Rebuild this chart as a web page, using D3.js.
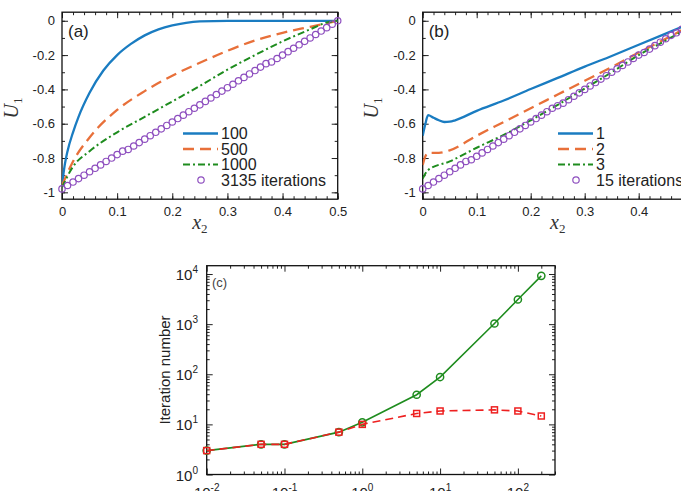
<!DOCTYPE html>
<html>
<head>
<meta charset="utf-8">
<script src="https://cdn.jsdelivr.net/npm/d3@7"></script>
<style>
  body { margin: 0; background: #fff; }
  svg { display: block; }
  .tick text { font-family: "Liberation Sans", Arial, Helvetica, sans-serif; fill: #222; }
  .math { font-family: "Liberation Serif", "Times New Roman", serif; font-style: italic; fill: #333; }
</style>
</head>
<body>
<div id="chart"></div>
<script>
// ---- data ----

// grid of the converged solution markers
var x2Grid = [0,0.01,0.02,0.03,0.04,0.05,0.06,0.07,0.08,0.09,0.1,0.11,0.12,0.13,0.14,0.15,0.16,0.17,0.18,0.19,0.2,
  0.21,0.22,0.23,0.24,0.25,0.26,0.27,0.28,0.29,0.3,0.31,0.32,0.33,0.34,0.35,0.36,0.37,0.38,0.39,0.4,
  0.41,0.42,0.43,0.44,0.45,0.46,0.47,0.48,0.49,0.5];

// panel (a)
var aX100 = [0,0.005,0.01,0.02,0.03,0.05,0.075,0.1,0.125,0.15,0.175,0.2,0.225,0.25,0.3,0.5];
var aY100 = [-0.96,-0.84,-0.76,-0.65,-0.56,-0.42,-0.29,-0.2,-0.135,-0.085,-0.05,-0.027,-0.012,-0.004,0,0];
var aX500 = [0,0.02,0.05,0.1,0.15,0.2,0.25,0.3,0.35,0.4,0.45,0.5];
var aY500 = [-0.96,-0.82,-0.68,-0.52,-0.41,-0.32,-0.245,-0.175,-0.115,-0.07,-0.035,0];
var aX1000 = [0,0.02,0.05,0.1,0.15,0.2,0.25,0.3,0.35,0.4,0.45,0.48,0.5];
var aY1000 = [-0.97,-0.85,-0.76,-0.65,-0.56,-0.47,-0.38,-0.285,-0.2,-0.12,-0.05,-0.01,0];
var aConverged = [-0.98,-0.96,-0.94,-0.92,-0.90,-0.88,-0.86,-0.84,-0.82,-0.80,-0.78,-0.76,-0.75,-0.73,-0.71,-0.69,-0.67,
  -0.65,-0.63,-0.61,-0.59,-0.57,-0.55,-0.53,-0.51,-0.49,-0.47,-0.45,-0.43,-0.41,-0.39,-0.37,-0.35,-0.33,-0.31,
  -0.29,-0.27,-0.25,-0.24,-0.22,-0.20,-0.18,-0.16,-0.14,-0.12,-0.10,-0.08,-0.06,-0.04,-0.02,0];
var aLabels = ['100', '500', '1000', '3135 iterations'];

// panel (b)
var bX1 = [0,0.005,0.01,0.02,0.03,0.04,0.05,0.06,0.1,0.15,0.2,0.25,0.3,0.35,0.4,0.45,0.5];
var bY1 = [-0.67,-0.6,-0.55,-0.565,-0.58,-0.59,-0.588,-0.58,-0.525,-0.465,-0.398,-0.333,-0.267,-0.205,-0.14,-0.075,-0.01];
var bX2 = [0,0.005,0.01,0.03,0.05,0.1,0.15,0.2,0.25,0.3,0.35,0.4,0.45,0.5];
var bY2 = [-0.84,-0.79,-0.77,-0.77,-0.755,-0.67,-0.59,-0.51,-0.43,-0.35,-0.27,-0.185,-0.105,-0.02];
var bX3 = [0,0.01,0.05,0.1,0.15,0.2,0.25,0.3,0.35,0.4,0.45,0.5];
var bY3 = [-0.92,-0.87,-0.82,-0.74,-0.665,-0.58,-0.49,-0.395,-0.3,-0.2,-0.115,-0.03];
var bConverged = [-0.98,-0.96,-0.94,-0.92,-0.90,-0.88,-0.86,-0.84,-0.82,-0.81,-0.79,-0.77,-0.75,-0.73,-0.71,-0.69,-0.67,
  -0.65,-0.63,-0.61,-0.59,-0.57,-0.55,-0.53,-0.51,-0.495,-0.48,-0.46,-0.44,-0.42,-0.40,-0.38,-0.36,-0.34,-0.32,
  -0.30,-0.28,-0.26,-0.24,-0.22,-0.20,-0.185,-0.165,-0.145,-0.125,-0.105,-0.085,-0.07,-0.05,-0.03,-0.01];
var bLabels = ['1', '2', '3', '15 iterations'];

// panel (c)
var cX = [0.01,0.05,0.1,0.5,1,5,10,50,100,200];
var cIterCircle = [3,4,4,7,11,39,88,1030,3100,9200];
var cIterSquare = [3,4,4,7,10,16.5,18.5,19.5,18.5,14.7];

// ---- styles ----
var colors = ['#1a7cc1', '#e8703a', '#1e8c1e', '#8e4fbf'];
var dashes = [null, '11,6', '7,3,2,3'];
var FONT = '"Liberation Sans", Arial, Helvetica, sans-serif';

var svg = d3.select('#chart').append('svg')
  .attr('width', 681)
  .attr('height', 491);

// inward ticks on all four sides of a frame
function frameAxes(g, x, y, xMajor, xMinor, yMajor, yMinor, xFmt, yFmt, labelX, labelY) {
  var x0 = x.range()[0], x1 = x.range()[1], y0 = y.range()[0], y1 = y.range()[1];

  [[d3.axisBottom, y0, labelX], [d3.axisTop, y1, false]].forEach(function (s) {
    g.append('g').attr('transform', 'translate(0,' + s[1] + ')')
      .call(s[0](x).tickValues(xMinor).tickSize(-3).tickFormat(''))
      .call(function (a) { a.select('.domain').remove(); });
    g.append('g').attr('transform', 'translate(0,' + s[1] + ')')
      .call(s[0](x).tickValues(xMajor).tickSize(-6).tickPadding(8).tickFormat(s[2] ? xFmt : ''))
      .call(function (a) { a.select('.domain').remove(); a.selectAll('text').style('font-size', '13px'); });
  });
  [[d3.axisLeft, x0, labelY], [d3.axisRight, x1, false]].forEach(function (s) {
    g.append('g').attr('transform', 'translate(' + s[1] + ',0)')
      .call(s[0](y).tickValues(yMinor).tickSize(-3).tickFormat(''))
      .call(function (a) { a.select('.domain').remove(); });
    g.append('g').attr('transform', 'translate(' + s[1] + ',0)')
      .call(s[0](y).tickValues(yMajor).tickSize(-6).tickPadding(7).tickFormat(s[2] ? yFmt : ''))
      .call(function (a) { a.select('.domain').remove(); a.selectAll('text').style('font-size', '13px'); });
  });
  g.selectAll('.tick line').attr('stroke', '#222').attr('stroke-width', 1);

  g.append('rect')
    .attr('x', x0).attr('y', y1)
    .attr('width', x1 - x0).attr('height', y0 - y1)
    .attr('fill', 'none').attr('stroke', '#111').attr('stroke-width', 1.3);
}

// plain hyphen minus, as in the reference
function fmtU(d) {
  if (Math.abs(d) < 1e-9) return '0';
  if (Math.abs(d + 1) < 1e-9) return '-1';
  return d.toFixed(1);
}
function fmtX(d) { return Math.abs(d) < 1e-9 ? '0' : d.toFixed(1); }

// ---- one U1 vs x2 panel ----
function drawPanel(opt) {
  var x = d3.scaleLinear().domain([0, 0.5]).range(opt.xRange);
  var y = d3.scaleLinear().domain([-1.04, 0.05]).range([199.2, 12.2]);
  var g = svg.append('g');

  var clipId = 'clip' + opt.tag;
  svg.append('clipPath').attr('id', clipId).append('rect')
    .attr('x', opt.xRange[0]).attr('y', 12.2)
    .attr('width', opt.xRange[1] - opt.xRange[0]).attr('height', 187);

  frameAxes(g, x, y,
    d3.range(0, 0.51, 0.1), d3.range(0, 0.51, 0.02),
    d3.range(-1, 0.01, 0.2), d3.range(-1, 0.01, 0.1),
    fmtX, fmtU, true, true);

  var line = d3.line()
    .x(function (d) { return x(d[0]); })
    .y(function (d) { return y(d[1]); })
    .curve(d3.curveMonotoneX);

  var plot = g.append('g').attr('clip-path', 'url(#' + clipId + ')');

  opt.series.forEach(function (s, i) {
    plot.append('path')
      .datum(d3.zip(s[0], s[1]))
      .attr('d', line)
      .attr('fill', 'none')
      .attr('stroke', colors[i])
      .attr('stroke-width', i === 2 ? 2 : 2.3)
      .attr('stroke-dasharray', dashes[i]);
  });

  g.selectAll('.conv')
    .data(d3.zip(x2Grid, opt.converged))
    .enter().append('circle')
    .attr('cx', function (d) { return x(d[0]); })
    .attr('cy', function (d) { return y(d[1]); })
    .attr('r', 3.2)
    .attr('fill', 'none')
    .attr('stroke', colors[3])
    .attr('stroke-width', 1.2);

  // panel tag
  g.append('text')
    .attr('x', opt.xRange[0] + 6).attr('y', 37)
    .style('font-family', FONT).style('font-size', '17px').attr('fill', '#222')
    .text('(' + opt.tag + ')');

  // legend
  var rows = [133.5, 149, 164.5, 180];
  opt.labels.forEach(function (lab, i) {
    if (i < 3) {
      g.append('line')
        .attr('x1', opt.legX).attr('x2', opt.legX + 35)
        .attr('y1', rows[i]).attr('y2', rows[i])
        .attr('stroke', colors[i]).attr('stroke-width', i === 2 ? 2 : 2.3)
        .attr('stroke-dasharray', dashes[i]);
    } else {
      g.append('circle')
        .attr('cx', opt.legX + 18).attr('cy', rows[i]).attr('r', 3.2)
        .attr('fill', 'none').attr('stroke', colors[3]).attr('stroke-width', 1.2);
    }
    g.append('text')
      .attr('x', opt.legX + 38).attr('y', rows[i]).attr('dy', '0.36em')
      .style('font-family', FONT).style('font-size', '16px').attr('fill', '#222')
      .text(lab);
  });

  // axis titles
  var xc = (opt.xRange[0] + opt.xRange[1]) / 2;
  var xt = g.append('text').attr('class', 'math')
    .attr('x', xc).attr('y', 229).attr('text-anchor', 'middle')
    .style('font-size', '20px');
  xt.append('tspan').text('x');
  xt.append('tspan').attr('dy', 4).style('font-size', '13px').style('font-style', 'normal').text('2');

  var yt = g.append('text').attr('class', 'math')
    .attr('transform', 'translate(' + opt.yLabX + ',108) rotate(-90)')
    .attr('text-anchor', 'middle')
    .style('font-size', '20px');
  yt.append('tspan').text('U');
  yt.append('tspan').attr('dy', 4).style('font-size', '13px').style('font-style', 'normal').text('1');
}

drawPanel({
  tag: 'a', xRange: [62, 337.7], legX: 183, yLabX: 18,
  series: [[aX100, aY100], [aX500, aY500], [aX1000, aY1000]],
  converged: aConverged, labels: aLabels
});

drawPanel({
  tag: 'b', xRange: [422.7, 692.7], legX: 558, yLabX: 378,
  series: [[bX1, bY1], [bX2, bY2], [bX3, bY3]],
  converged: bConverged, labels: bLabels
});

// ---- panel (c): iteration number, log-log ----
var xC = d3.scaleLog().domain([0.01, 300]).range([206.7, 555]);
var yC = d3.scaleLog().domain([1, 14660]).range([474.5, 265.7]);
var gc = svg.append('g');

var decX = [0.01, 0.1, 1, 10, 100];
var decY = [1, 10, 100, 1000, 10000];
var minX = [], minY = [];
decX.forEach(function (d) { d3.range(2, 10).forEach(function (k) { if (d * k <= 300) minX.push(d * k); }); });
decY.forEach(function (d) { d3.range(2, 10).forEach(function (k) { if (d * k <= 14660) minY.push(d * k); }); });

frameAxes(gc, xC, yC, decX, minX, decY, minY, null, null, false, false);

// superscripted decade labels
gc.selectAll('.ylab')
  .data(decY)
  .enter().append('text')
  .attr('x', 198).attr('y', function (d) { return yC(d) + 6; })
  .attr('text-anchor', 'end')
  .style('font-family', FONT).style('font-size', '15px').attr('fill', '#222')
  .each(function (d) {
    var t = d3.select(this);
    t.append('tspan').text('10');
    t.append('tspan').attr('dy', -7).style('font-size', '10px').text(Math.round(Math.log10(d)));
  });

gc.selectAll('.xlab')
  .data(decX)
  .enter().append('text')
  .attr('x', function (d) { return xC(d); }).attr('y', 498)
  .attr('text-anchor', 'middle')
  .style('font-family', FONT).style('font-size', '15px').attr('fill', '#222')
  .each(function (d) {
    var t = d3.select(this);
    t.append('tspan').text('10');
    t.append('tspan').attr('dy', -7).style('font-size', '10px').text(Math.round(Math.log10(d)));
  });

var lineC = d3.line()
  .x(function (d) { return xC(d[0]); })
  .y(function (d) { return yC(d[1]); });

var circData = d3.zip(cX, cIterCircle);
var sqData = d3.zip(cX, cIterSquare);

gc.append('path').datum(circData).attr('d', lineC)
  .attr('fill', 'none').attr('stroke', '#1e8c1e').attr('stroke-width', 1.6);
gc.selectAll('.cc').data(circData).enter().append('circle')
  .attr('cx', function (d) { return xC(d[0]); })
  .attr('cy', function (d) { return yC(d[1]); })
  .attr('r', 3.6).attr('fill', 'none').attr('stroke', '#1e8c1e').attr('stroke-width', 1.5);

gc.append('path').datum(sqData).attr('d', lineC)
  .attr('fill', 'none').attr('stroke', '#ee2020').attr('stroke-width', 1.6)
  .attr('stroke-dasharray', '8,5');
gc.selectAll('.sq').data(sqData).enter().append('rect')
  .attr('x', function (d) { return xC(d[0]) - 3; })
  .attr('y', function (d) { return yC(d[1]) - 3; })
  .attr('width', 6).attr('height', 6)
  .attr('fill', 'none').attr('stroke', '#ee2020').attr('stroke-width', 1.5);

gc.append('text')
  .attr('x', 212).attr('y', 287)
  .style('font-family', FONT).style('font-size', '13px').attr('fill', '#444')
  .text('(c)');

gc.append('text')
  .attr('transform', 'translate(170,370) rotate(-90)')
  .attr('text-anchor', 'middle')
  .style('font-family', FONT).style('font-size', '15px').attr('fill', '#222')
  .text('Iteration number');
</script>
</body>
</html>
